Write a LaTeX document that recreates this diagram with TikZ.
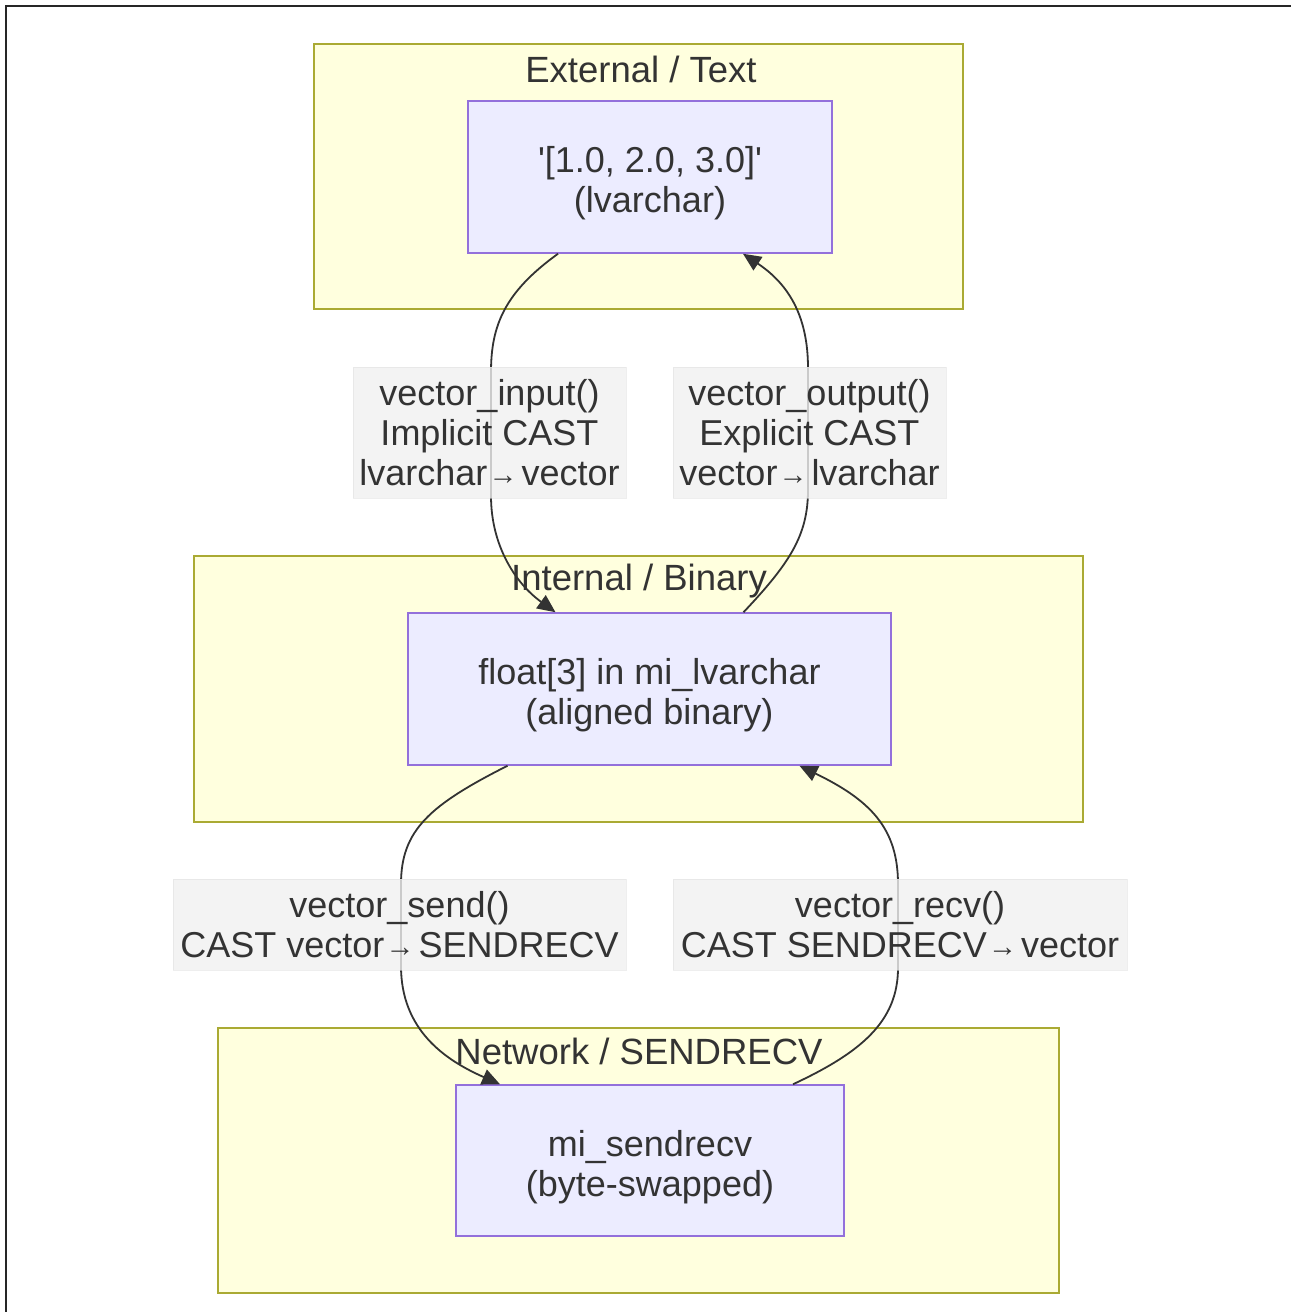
\documentclass[tikz,border=0pt]{standalone}
\usepackage{fontspec}
\setmainfont{Liberation Sans}
\usetikzlibrary{arrows.meta}
\definecolor{txt}{HTML}{333333}
\definecolor{clfill}{HTML}{FFFFDE}
\definecolor{cldraw}{HTML}{AAAA33}
\definecolor{ndfill}{HTML}{ECECFF}
\definecolor{nddraw}{HTML}{9370DB}
\definecolor{lbfill}{HTML}{F0F0F0}
\newcommand{\rarr}{\hspace{1pt}{\fontsize{29}{29}\selectfont\raisebox{1pt}{→}}\hspace{4pt}}
\newcommand{\tallA}{\rule{0pt}{39pt}}
\newcommand{\tallL}{\rule{0pt}{27pt}}
\tikzset{
  cluster/.style={draw=cldraw, fill=clfill, line width=1.5pt, rectangle, inner sep=0pt},
  ctitle/.style={text=txt, font=\fontsize{36.5}{40}\selectfont, inner sep=0pt},
  box/.style={draw=nddraw, fill=ndfill, line width=1.5pt, rectangle, inner sep=0pt, align=center, text=txt, font=\fontsize{36}{40}\selectfont, minimum height=152pt},
  elabel/.style={fill=lbfill, fill opacity=0.8, text opacity=1, draw=lbfill!85!gray, draw opacity=0.5, inner sep=0pt, align=center, text=txt, font=\fontsize{36}{40}\selectfont},
  conn/.style={draw=txt, line width=1.8pt, -{Triangle[length=18pt,width=16pt]}},
}
\begin{document}
\begin{tikzpicture}[x=1pt,y=-1pt]
\useasboundingbox (0,0) rectangle (1291,1312);
\fill[white] (0,0) rectangle (1291,1312);
\draw[line width=2pt, black!85] (6,1312) -- (6,6) -- (1291,6);
% clusters
\node[cluster, minimum width=649pt, minimum height=265pt] (K1) at (638.5,176.5) {};
\node[cluster, minimum width=889pt, minimum height=266pt] (K2) at (638.5,689) {};
\node[cluster, minimum width=841pt, minimum height=265pt] (K3) at (638.5,1160.5) {};
% nodes
\node[box, minimum width=364pt] (A) at (650,177) {\tallA\textquotesingle[1.0, 2.0, 3.0]\textquotesingle\\(lvarchar)};
\node[box, minimum width=483pt] (B) at (649.5,689) {\tallA float[3] in mi\_lvarchar\\(aligned binary)};
\node[box, minimum width=388pt, minimum height=151pt] (C) at (650,1160.5) {\tallA mi\_sendrecv\\(byte-swapped)};
% edges
\draw[conn] ([xshift=-92]A.south) .. controls (505,292) and (491,325) .. (491,372)
  -- (491,496) .. controls (491,545) and (515,583) .. ([xshift=-94]B.north);
\draw[conn] ([xshift=94]B.north) .. controls (790,563) and (808,535) .. (808,490)
  -- (808,368) .. controls (808,318) and (790,285) .. ([xshift=93]A.south);
\draw[conn] ([xshift=-142]B.south) .. controls (430,805) and (401,830) .. (401,884)
  -- (401,966) .. controls (401,1030) and (445,1060) .. ([xshift=-150]C.north);
\draw[conn] ([xshift=143]C.north) .. controls (860,1053) and (898,1022) .. (898,968)
  -- (898,884) .. controls (898,828) and (870,800) .. ([xshift=150]B.south);
% cluster titles
\node[ctitle] (T1) at (641,69) {External / Text};
\node[ctitle] (T2) at (639,581) {Internal / Binary};
\node[ctitle] (T3) at (639,1051) {Network / SENDRECV};
% edge labels
\node[elabel, minimum width=273pt, minimum height=131pt] (L1) at (489.5,432.5) {\tallL vector\_input()\\Implicit CAST\\lvarchar\rarr vector};
\node[elabel, minimum width=273pt, minimum height=131pt] (L2) at (809.5,432.5) {\tallL vector\_output()\\Explicit CAST\\vector\rarr lvarchar};
\node[elabel, minimum width=453pt, minimum height=91pt] (L3) at (399.5,924.5) {\tallL vector\_send()\\CAST vector\rarr SENDRECV};
\node[elabel, minimum width=454pt, minimum height=91pt] (L4) at (900,924.5) {\tallL vector\_recv()\\CAST SENDRECV\rarr vector};
\end{tikzpicture}
\end{document}
